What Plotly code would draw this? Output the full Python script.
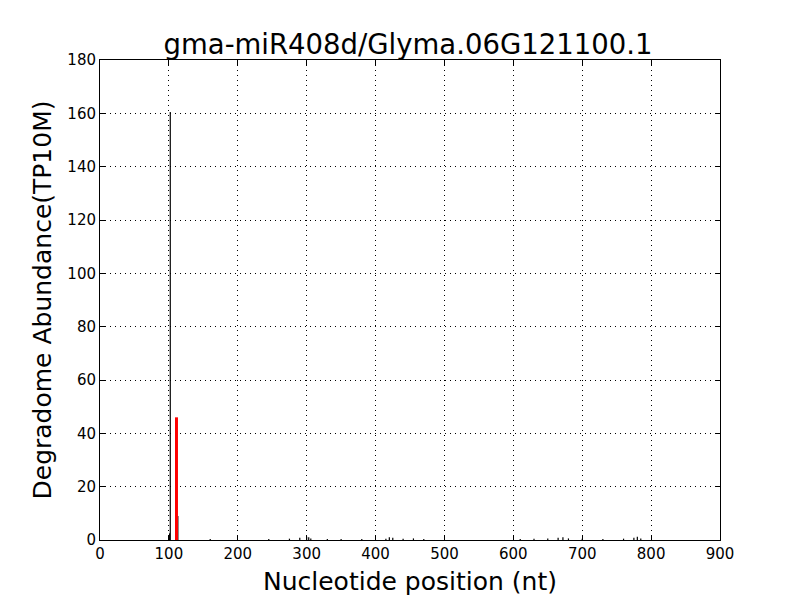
import plotly.graph_objects as go

# Degradome signal (position nt, abundance TP10M)
positions = [101, 102, 113, 160, 245, 275, 290, 300, 303, 306, 330, 350, 380, 415, 420, 425, 440, 455, 470, 610, 630, 650, 665, 672, 680, 700, 730, 760, 775, 780, 785]
abundance = [2.5, 160.5, 9.0, 0.4, 0.4, 0.5, 0.8, 1.2, 1.0, 0.6, 0.4, 0.4, 0.4, 0.5, 1.0, 0.8, 0.5, 0.6, 0.4, 0.4, 0.5, 0.6, 0.8, 1.0, 0.6, 0.5, 0.4, 0.5, 0.8, 1.2, 0.6]
# Cleavage site
cleave_pos = [111]
cleave_val = [46.0]

title = "gma-miR408d/Glyma.06G121100.1"
x_ticks = [0, 100, 200, 300, 400, 500, 600, 700, 800, 900]
y_ticks = [0, 20, 40, 60, 80, 100, 120, 140, 160, 180]

def segs(xs, ys):
    sx, sy = [], []
    for x, y in zip(xs, ys):
        sx += [x, x, None]
        sy += [0, y, None]
    return sx, sy

fig = go.Figure()
bx, by = segs(positions, abundance)
fig.add_trace(go.Scatter(x=bx, y=by, mode="lines", line=dict(color="black", width=1.2),
                         showlegend=False, hoverinfo="skip"))
rx, ry = segs(cleave_pos, cleave_val)
fig.add_trace(go.Scatter(x=rx, y=ry, mode="lines", line=dict(color="red", width=3),
                         showlegend=False, hoverinfo="skip"))

axis_common = dict(
    showline=True, linecolor="black", linewidth=1, mirror="ticks",
    ticks="inside", ticklen=5, tickcolor="black", automargin=False,
    showgrid=True, gridcolor="black", griddash="1px,4px", gridwidth=1,
    zeroline=False, tickfont=dict(size=15, color="black"),
)
fig.update_layout(
    width=800, height=600,
    margin=dict(l=92, r=88, t=52, b=68),
    paper_bgcolor="white", plot_bgcolor="white",
    font=dict(family="DejaVu Sans", color="black"),
    title=dict(text=title, x=0.5, xanchor="center", y=0.94, yanchor="middle",
               font=dict(size=27.5, color="black")),
    xaxis=dict(range=[0, 900], tickvals=x_ticks,
               title=dict(text="Nucleotide position (nt)", font=dict(size=25), standoff=10),
               **axis_common),
    yaxis=dict(range=[0, 180], tickvals=y_ticks,
               title=dict(text="Degradome Abundance(TP10M)", font=dict(size=25), standoff=8),
               **axis_common),
)
fig.write_html("out.html")
